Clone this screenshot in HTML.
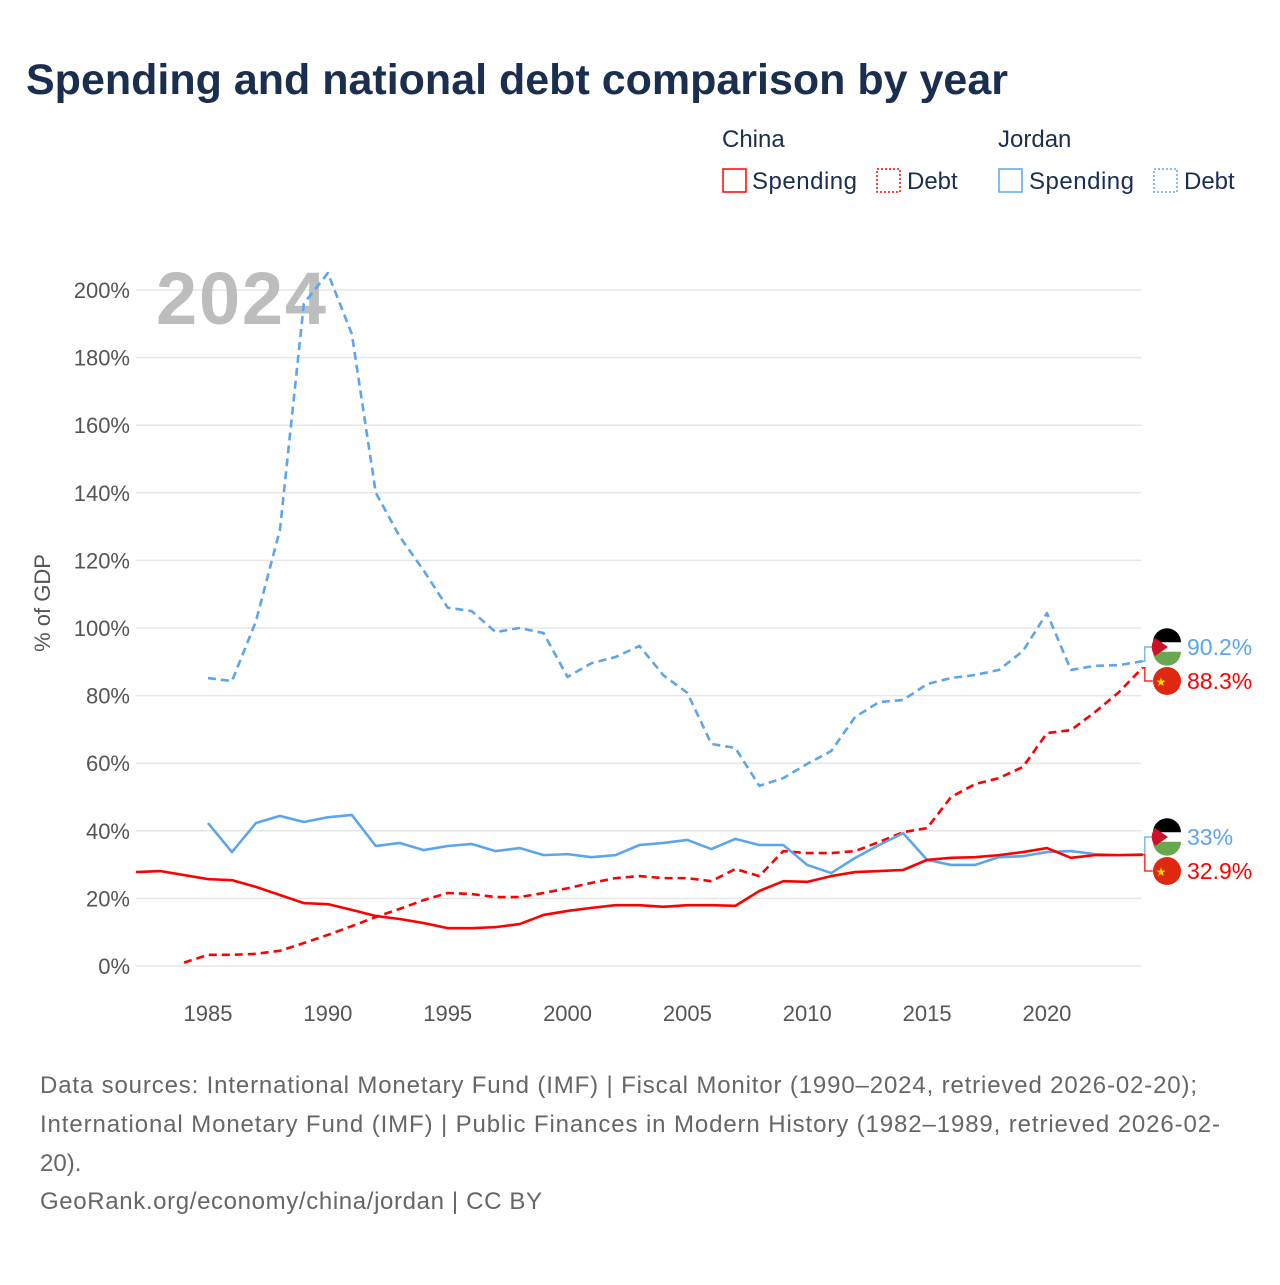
<!DOCTYPE html>
<html><head><meta charset="utf-8"><style>
body{margin:0;background:#fff;font-family:"Liberation Sans",sans-serif}
</style></head><body>
<svg width="1280" height="1280" xmlns="http://www.w3.org/2000/svg" font-family="Liberation Sans, sans-serif">
<text x="26" y="94" font-size="43" font-weight="bold" fill="#1a2e4f">Spending and national debt comparison by year</text>
<g font-size="24" fill="#1a2e4f">
<text x="722" y="147">China</text><text x="998" y="147">Jordan</text>
<g><rect x="723" y="169" width="23" height="23" fill="none" stroke="#f00" stroke-width="1.5"/><text x="752" y="189" textLength="105">Spending</text></g>
<g><rect x="877" y="169" width="23" height="23" fill="none" stroke="#f00" stroke-width="1.5" stroke-dasharray="2,2"/><text x="907" y="189">Debt</text></g>
<g><rect x="999" y="169" width="23" height="23" fill="none" stroke="#5da5ea" stroke-width="1.5"/><text x="1029" y="189" textLength="105">Spending</text></g>
<g><rect x="1154" y="169" width="23" height="23" fill="none" stroke="#5da5ea" stroke-width="1.5" stroke-dasharray="2,2"/><text x="1184" y="189">Debt</text></g>
</g>
<g id="grid"></g>
<text x="156" y="324" font-size="74" font-weight="bold" fill="#bdbdbd" textLength="170">2024</text>
<g id="marks"></g>
<text transform="translate(50,603) rotate(-90)" text-anchor="middle" font-size="22" fill="#555">% of GDP</text>
<g font-size="24" fill="#666">
<text x="40" y="1093" textLength="1157">Data sources: International Monetary Fund (IMF) | Fiscal Monitor (1990–2024, retrieved 2026-02-20);</text>
<text x="40" y="1132" textLength="1180">International Monetary Fund (IMF) | Public Finances in Modern History (1982–1989, retrieved 2026-02-</text>
<text x="40" y="1171">20).</text>
<text x="40" y="1209" textLength="502">GeoRank.org/economy/china/jordan | CC BY</text>
</g>
</svg>
<script>
const yTicks=[0,20,40,60,80,100,120,140,160,180,200];
const xTicks=[1985,1990,1995,2000,2005,2010,2015,2020];
const jdYears=[1985,1986,1987,1988,1989,1990,1991,1992,1993,1994,1995,1996,1997,1998,1999,2000,2001,2002,2003,2004,2005,2006,2007,2008,2009,2010,2011,2012,2013,2014,2015,2016,2017,2018,2019,2020,2021,2022,2023,2024];
const jordanDebt=[85.2,84.3,102,129,196,205,187,140,127,117,106,105,98.8,100,98.5,85.5,89.6,91.4,94.7,86,80.8,65.7,64.5,53.3,55.6,59.8,63.6,73.7,78.1,78.7,83.4,85.2,86.1,87.6,93.2,104.4,87.6,88.8,89,90.2];
const jordanSpending=[42.3,33.7,42.3,44.4,42.6,44,44.7,35.5,36.4,34.3,35.5,36.1,34,34.9,32.8,33.1,32.2,32.8,35.8,36.4,37.3,34.6,37.6,35.8,35.8,29.9,27.5,32,35.8,39.3,31.4,29.9,29.9,32.2,32.5,33.7,34,33.1,32.8,33];
const cdYears=[1984,1985,1986,1987,1988,1989,1990,1991,1992,1993,1994,1995,1996,1997,1998,1999,2000,2001,2002,2003,2004,2005,2006,2007,2008,2009,2010,2011,2012,2013,2014,2015,2016,2017,2018,2019,2020,2021,2022,2023,2024];
const chinaDebt=[1,3.3,3.3,3.6,4.5,6.8,9.2,11.8,14.5,16.9,19.5,21.6,21.3,20.4,20.4,21.6,23,24.6,26,26.6,26,26,25.1,28.7,26.6,34,33.4,33.4,34,36.7,39.6,40.8,50,53.8,55.6,58.9,68.9,69.8,75.1,81,88.3];
const csYears=[1982,1983,1984,1985,1986,1987,1988,1989,1990,1991,1992,1993,1994,1995,1996,1997,1998,1999,2000,2001,2002,2003,2004,2005,2006,2007,2008,2009,2010,2011,2012,2013,2014,2015,2016,2017,2018,2019,2020,2021,2022,2023,2024];
const chinaSpending=[27.8,28.1,26.9,25.7,25.4,23.4,21,18.6,18.3,16.6,14.8,13.9,12.7,11.2,11.2,11.5,12.4,15.1,16.3,17.2,18,18,17.5,18,18,17.8,22.2,25.1,24.9,26.6,27.8,28.1,28.4,31.4,32,32.2,32.8,33.7,34.9,32,32.8,32.8,32.9];
const NS="http://www.w3.org/2000/svg";
const X=yr=>208+(yr-1985)*23.97;
const Y=v=>966-v*3.38;
function mk(t,a,p){const e=document.createElementNS(NS,t);for(const k in a)e.setAttribute(k,a[k]);p.appendChild(e);return e;}
const grid=document.getElementById('grid'),marks=document.getElementById('marks');
yTicks.forEach(v=>{
const l=mk('line',{x1:136,x2:1141,y1:Y(v),y2:Y(v),stroke:'#e6e6e6','stroke-width':1.5},grid);


const t=mk('text',{x:130,y:Y(v)+8,'text-anchor':'end','font-size':22,fill:'#555'},grid);t.textContent=v+'%';


});
xTicks.forEach(yr=>{
const t=mk('text',{x:X(yr),y:1021,'text-anchor':'middle','font-size':22,fill:'#555'},grid);t.textContent=yr;


});
function line(xs,vs,color,dash,name){
const p=mk('polyline',{points:xs.map((x,i)=>X(x)+','+Y(vs[i])).join(' '),fill:'none',stroke:color,'stroke-width':2.6,'stroke-dasharray':dash||'none','stroke-linejoin':'round'},marks);


}
line(jdYears,jordanDebt,'#5da5ea','8,5','line-jordan-debt');
line(cdYears,chinaDebt,'#f00','8,5','line-china-debt');
line(jdYears,jordanSpending,'#5da5ea',null,'line-jordan-spending');
line(csYears,chinaSpending,'#f00',null,'line-china-spending');
function endLabel(v,ly,color,txt,flag,name){
const x0=X(2024);
mk('polyline',{points:`${x0},${Y(v)} ${x0+2},${Y(v)} ${x0+2},${ly} ${x0+10},${ly}`,fill:'none',stroke:color,'stroke-width':1.2},marks);
const g=mk('g',{},marks);


if(flag==='jo'){
mk('circle',{cx:1167,cy:ly,r:14,fill:'#fff'},g);
mk('path',{d:`M1153,${ly-4.7} A14,14 0 0 1 1181,${ly-4.7} Z`,fill:'#000'},g);
mk('path',{d:`M1153,${ly+4.7} L1181,${ly+4.7} A14,14 0 0 1 1153,${ly+4.7} Z`,fill:'#6aa84f'},g);
mk('path',{d:`M1155,${ly-9} L1168,${ly} L1155,${ly+9} A14,14 0 0 1 1155,${ly-9}Z`,fill:'#ce1126'},g);
}else{
mk('circle',{cx:1167,cy:ly,r:14,fill:'#de2910'},g);
const s=mk('text',{x:1161,y:ly+5,'text-anchor':'middle','font-size':12,fill:'#ffde00'},g);s.textContent='★';
}
const t=mk('text',{x:1187,y:ly+8,'font-size':23,fill:color},g);t.textContent=txt;
}
endLabel(jordanDebt[jordanDebt.length-1],647,'#5da5ea',jordanDebt[jordanDebt.length-1]+'%','jo','end-label-jordan-debt');
endLabel(chinaDebt[chinaDebt.length-1],681,'#f00',chinaDebt[chinaDebt.length-1]+'%','cn','end-label-china-debt');
endLabel(jordanSpending[jordanSpending.length-1],837,'#5da5ea',jordanSpending[jordanSpending.length-1]+'%','jo','end-label-jordan-spending');
endLabel(chinaSpending[chinaSpending.length-1],871,'#f00',chinaSpending[chinaSpending.length-1]+'%','cn','end-label-china-spending');
</script>
</body></html>
